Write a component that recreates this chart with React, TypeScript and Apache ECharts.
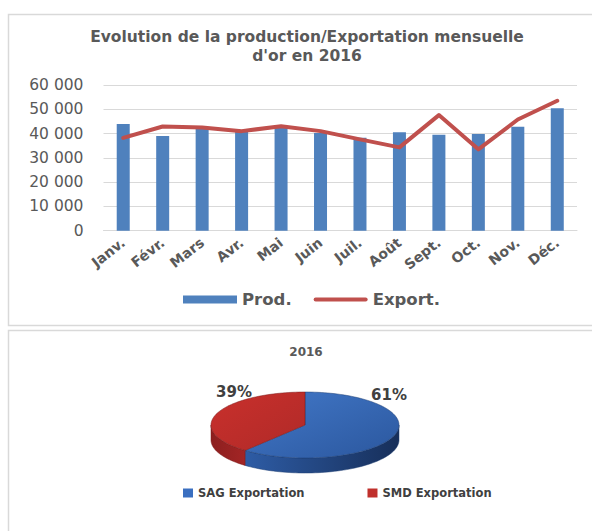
import React, { useEffect, useRef } from 'react';
import * as echarts from 'echarts';

const months = ['Janv.', 'Févr.', 'Mars', 'Avr.', 'Mai', 'Juin', 'Juil.', 'Août', 'Sept.', 'Oct.', 'Nov.', 'Déc.'];
const production = [43900, 39000, 42000, 40800, 42300, 40200, 38300, 40500, 39500, 39800, 42800, 50400];
const exportation = [38200, 42900, 42500, 41000, 43000, 41000, 37600, 34300, 47600, 33500, 45800, 53500];
const yTicks = [0, 10000, 20000, 30000, 40000, 50000, 60000];
const seriesNames = ['Prod.', 'Export.'];
const chartTitle = "Evolution de la production/Exportation mensuelle\nd'or en 2016";
const pieTitle = '2016';
const pieNames = ['SAG Exportation', 'SMD Exportation'];
const pieValues = [61, 39];

const FONT = '"DejaVu Sans", sans-serif';
const PIE = { cx: 305, cy: 425, rx: 94, ry: 33, depth: 15 };

function pt(theta: number, dy = 0): number[] {
  const r = (theta * Math.PI) / 180;
  return [PIE.cx + PIE.rx * Math.sin(r), PIE.cy - PIE.ry * Math.cos(r) + dy];
}
function arc(a0: number, a1: number, dy = 0): number[][] {
  const n = Math.max(2, Math.ceil(Math.abs(a1 - a0) / 2));
  const pts: number[][] = [];
  for (let i = 0; i <= n; i++) pts.push(pt(a0 + ((a1 - a0) * i) / n, dy));
  return pts;
}

function makeRenderItem(topFill: any, sideFill: any, rim: string) {
  return (params: any, api: any) => {
    const value = api.value(0);
    const start = api.value(1);
    const total = api.value(2);
    const a0 = (start / total) * 360;
    const a1 = ((start + value) / total) * 360;
    const children: any[] = [];
    const s0 = Math.max(a0, 90);
    const s1 = Math.min(a1, 270);
    if (s1 > s0) {
      const pts = arc(s0, s1).concat(arc(s1, s0, PIE.depth));
      children.push({ type: 'polygon', shape: { points: pts }, style: { fill: sideFill, stroke: rim, lineWidth: 0.5 } });
    }
    const top = [[PIE.cx, PIE.cy]].concat(arc(a0, a1));
    children.push({ type: 'polygon', shape: { points: top }, style: { fill: topFill, stroke: rim, lineWidth: 0.5 } });
    return { type: 'group', children };
  };
}

const fmt = (v: number) => String(v).replace(/\B(?=(\d{3})+(?!\d))/g, ' ');

export default function App() {
  const ref = useRef<HTMLDivElement>(null);
  useEffect(() => {
    if (!ref.current) return;
    const chart = echarts.init(ref.current, undefined, { renderer: 'svg' });
    const total = pieValues.reduce((a, b) => a + b, 0);
    const cum = pieValues.map((_, i) => pieValues.slice(0, i).reduce((a, b) => a + b, 0));
    const tops = [
      { type: 'linear', x: 0, y: 0, x2: 1, y2: 1, colorStops: [{ offset: 0, color: '#4278c8' }, { offset: 1, color: '#2b579e' }] },
      { type: 'linear', x: 0, y: 0, x2: 1, y2: 1, colorStops: [{ offset: 0, color: '#c9302c' }, { offset: 1, color: '#b02a28' }] },
    ];
    const sides = [
      { type: 'linear', x: 0, y: 0, x2: 1, y2: 0, colorStops: [{ offset: 0, color: '#2e5ca5' }, { offset: 1, color: '#172f5a' }] },
      { type: 'linear', x: 0, y: 0, x2: 1, y2: 0, colorStops: [{ offset: 0, color: '#8c1f1f' }, { offset: 1, color: '#a32525' }] },
    ];
    const legendColors = ['#3a6fc0', '#c0302c'];
    const rims = ['#1f3f73', '#7a1a1a'];

    const labelPos = [
      [389, 395],
      [234, 392],
    ];

    chart.setOption({
      animation: false,
      backgroundColor: '#ffffff',
      graphic: [
        { type: 'rect', shape: { x: 8.5, y: 14.5, width: 600, height: 311 }, style: { fill: 'none', stroke: '#d9d9d9', lineWidth: 1.5 }, silent: true },
        { type: 'rect', shape: { x: 8.5, y: 330.5, width: 600, height: 230 }, style: { fill: 'none', stroke: '#d9d9d9', lineWidth: 1.5 }, silent: true },
        { type: 'text', x: 307, y: 46, style: { text: chartTitle, textAlign: 'center', textVerticalAlign: 'middle', font: `bold 15.5px ${FONT}`, fill: '#595959', lineHeight: 19 } },
        { type: 'text', x: 306, y: 352, style: { text: pieTitle, textAlign: 'center', textVerticalAlign: 'middle', font: `bold 12px ${FONT}`, fill: '#595959' } },
        ...pieValues.map((v, i) => ({
          type: 'text', x: labelPos[i][0], y: labelPos[i][1], z: 10,
          style: { text: `${v}%`, textAlign: 'center', textVerticalAlign: 'middle', font: `bold 15px ${FONT}`, fill: '#404040' },
        })),
      ],
      grid: { left: 103.5, right: 15, top: 85, bottom: 300.3, containLabel: false },
      xAxis: {
        type: 'category',
        data: months,
        axisTick: { show: false },
        axisLine: { lineStyle: { color: '#d9d9d9', width: 1 } },
        axisLabel: { rotate: 38, interval: 0, margin: 10, fontFamily: FONT, fontWeight: 'bold', fontSize: 14, color: '#595959' },
      },
      yAxis: {
        type: 'value',
        min: yTicks[0],
        max: yTicks[yTicks.length - 1],
        interval: yTicks[1] - yTicks[0],
        axisLine: { show: false },
        axisTick: { show: false },
        splitLine: { lineStyle: { color: '#d9d9d9', width: 1 } },
        axisLabel: { margin: 20, fontFamily: FONT, fontSize: 15.5, color: '#595959', formatter: fmt },
      },
      legend: [
        {
          left: 183, top: 291, padding: 0, itemWidth: 54, itemHeight: 8, itemGap: 22,
          textStyle: { fontFamily: FONT, fontWeight: 'bold', fontSize: 16.5, color: '#595959' },
          data: [
            { name: seriesNames[0], icon: 'rect' },
            { name: seriesNames[1], icon: 'path://M2,0 L52,0 A2,2 0 0 1 52,4 L2,4 A2,2 0 0 1 2,0 Z' },
          ],
        },
        {
          left: 183, top: 487, padding: 0, itemWidth: 10, itemHeight: 9, itemGap: 63, icon: 'rect',
          textStyle: { fontFamily: FONT, fontWeight: 'bold', fontSize: 11.5, color: '#404040' },
          data: pieNames,
        },
      ],
      series: [
        { name: seriesNames[0], type: 'bar', data: production, barWidth: 13, itemStyle: { color: '#4f81bd' } },
        {
          name: seriesNames[1], type: 'line', data: exportation, symbol: 'none', z: 5,
          itemStyle: { color: '#c0504d' },
          lineStyle: { color: '#c0504d', width: 4, cap: 'round', join: 'round' },
        },
        ...pieNames.map((name, i) => ({
          name,
          type: 'custom',
          coordinateSystem: 'none',
          itemStyle: { color: legendColors[i] },
          renderItem: makeRenderItem(tops[i], sides[i], rims[i]),
          data: [[pieValues[i], cum[i], total]],
        })),
      ],
    });
    return () => chart.dispose();
  }, []);
  return <div ref={ref} style={{ position: 'absolute', left: 0, top: 0, width: 592, height: 531 }} />;
}
